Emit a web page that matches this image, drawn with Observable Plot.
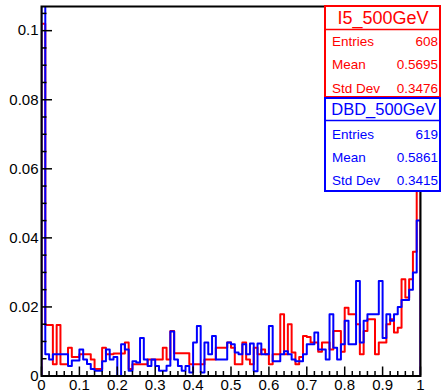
<!DOCTYPE html>
<html><head><meta charset="utf-8">
<script src="https://cdn.jsdelivr.net/npm/d3@7"></script>
<script src="https://cdn.jsdelivr.net/npm/@observablehq/plot@0.6"></script>
<style>
html,body{margin:0;padding:0;background:#fff;}
#chart svg{display:block;}
</style></head><body><div id="chart"></div>
<script>
// ---- data ----
const nBins = 100;
const binEdges = d3.range(0, nBins + 1).map(k => +(k / nBins).toFixed(2));

const seriesNames = ["I5_500GeV", "DBD_500GeV"];
const seriesColors = ["#ff0000", "#0000ff"];

const redValues = [
  0.102, 0.0148, 0.0148, 0.0034, 0.0148, 0.0034, 0.0034, 0.0082, 0.0055, 0.0055,
  0.0063, 0.0063, 0.0063, 0.0048, 0.0020, 0.0020, 0.0082, 0.0063, 0.0063, 0.0065,
  0.0065, 0.0065, 0.0097, 0.0020, 0.0034, 0.0034, 0.0034, 0.0034, 0.0048, 0.0048,
  0.0048, 0.0048, 0.0082, 0.0048, 0.0130, 0.0066, 0.0066, 0.0066, 0.0066, 0.0034,
  0.0034, 0.0034, 0.0034, 0.0048, 0.0048, 0.0048, 0.0082, 0.0082, 0.0082, 0.0097,
  0.0082, 0.0034, 0.0034, 0.0097, 0.0048, 0.0034, 0.0082, 0.0063, 0.0077, 0.0063,
  0.0034, 0.0063, 0.0063, 0.0179, 0.0063, 0.0150, 0.0068, 0.0034, 0.0055, 0.0116,
  0.0113, 0.0097, 0.0097, 0.0070, 0.0097, 0.0097, 0.0077, 0.0130, 0.0130, 0.0070,
  0.0198, 0.0179, 0.0179, 0.0150, 0.0063, 0.0130, 0.0164, 0.0164, 0.0063, 0.0097,
  0.0097, 0.0150, 0.0164, 0.0126, 0.0140, 0.0280, 0.0227, 0.0280, 0.0360, 0.0620
];
const blueValues = [
  0.150, 0.0063, 0.0048, 0.0063, 0.0063, 0.0063, 0.0063, 0.0029, 0.0045, 0.0045,
  0.0077, 0.0048, 0.0035, 0.0020, 0.0015, 0.0015, 0.0043, 0.0077, 0.0048, 0.0055,
  0.0000, 0.0092, 0.0077, 0.0015, 0.0043, 0.0039, 0.0110, 0.0048, 0.0029, 0.0048,
  0.0029, 0.0015, 0.0015, 0.0030, 0.0129, 0.0048, 0.0029, 0.0015, 0.0029, 0.0010,
  0.0097, 0.0145, 0.0010, 0.0097, 0.0063, 0.0116, 0.0048, 0.0048, 0.0048, 0.0097,
  0.0092, 0.0068, 0.0063, 0.0092, 0.0063, 0.0094, 0.0014, 0.0094, 0.0063, 0.0063,
  0.0145, 0.0043, 0.0043, 0.0063, 0.0072, 0.0063, 0.0048, 0.0043, 0.0043, 0.0063,
  0.0092, 0.0092, 0.0126, 0.0077, 0.0077, 0.0048, 0.0179, 0.0082, 0.0048, 0.0092,
  0.0160, 0.0092, 0.0092, 0.0275, 0.0097, 0.0160, 0.0179, 0.0179, 0.0179, 0.0275,
  0.0110, 0.0179, 0.0160, 0.0179, 0.0200, 0.0220, 0.0220, 0.0250, 0.0300, 0.0450
];

const statNames = ["Entries", "Mean", "Std Dev"];
const redStats = ["608", "0.5695", "0.3476"];
const blueStats = ["619", "0.5861", "0.3415"];

const xMajor = [0, 0.1, 0.2, 0.3, 0.4, 0.5, 0.6, 0.7, 0.8, 0.9, 1];
const xTickLabels = ["0", "0.1", "0.2", "0.3", "0.4", "0.5", "0.6", "0.7", "0.8", "0.9", "1"];
const xMinor = d3.range(0, 51).map(k => +(k * 0.02).toFixed(2)).filter(v => !xMajor.includes(v));
const yMajor = [0, 0.02, 0.04, 0.06, 0.08, 0.1];
const yTickLabels = ["0", "0.02", "0.04", "0.06", "0.08", "0.1"];
const yMinor = d3.range(0, 22).map(k => +(k * 0.005).toFixed(3)).filter(v => !yMajor.includes(v));

// ---- build step outline ----
function outline(vals) {
  const pts = [{x: binEdges[0], y: 0}];
  vals.forEach((v, i) => pts.push({x: binEdges[i], y: v}));
  pts.push({x: binEdges[nBins], y: vals[nBins - 1]});
  pts.push({x: binEdges[nBins], y: 0});
  return pts;
}

const FONT = "'Liberation Sans', Arial, Helvetica, sans-serif";
const W = 441, H = 392, ML = 41, MR = 21, MT = 6, MB = 16.5;
const frameW = W - ML - MR, frameH = H - MT - MB;

const chart = Plot.plot({
  width: W, height: H,
  marginLeft: ML, marginRight: MR, marginTop: MT, marginBottom: MB,
  style: {fontFamily: FONT, fontSize: "15px", background: "white", overflow: "visible", color: "black"},
  x: {domain: [0, 1], ticks: xMajor, tickFormat: d => xTickLabels[xMajor.indexOf(d)], tickSize: 0, tickPadding: 3.5, label: null},
  y: {domain: [0, 0.107], ticks: yMajor, tickFormat: d => yTickLabels[yMajor.indexOf(d)], tickSize: 0, tickPadding: 3, label: null},
  marks: [
    Plot.line(outline(redValues), {x: "x", y: "y", curve: "step-after", stroke: seriesColors[0], strokeWidth: 2, clip: true}),
    Plot.line(outline(blueValues), {x: "x", y: "y", curve: "step-after", stroke: seriesColors[1], strokeWidth: 2, clip: true}),
    Plot.ruleY(yMinor, {stroke: "black", strokeWidth: 1.5, insetRight: frameW - 5.5}),
    Plot.ruleY(yMajor, {stroke: "black", strokeWidth: 1.5, insetRight: frameW - 11}),
    Plot.ruleX(xMinor, {stroke: "black", strokeWidth: 1.5, insetTop: frameH - 4.5}),
    Plot.ruleX(xMajor, {stroke: "black", strokeWidth: 1.5, insetTop: frameH - 9}),
    Plot.frame({stroke: "black", strokeWidth: 2})
  ]
});
document.getElementById("chart").appendChild(chart);

// ---- ROOT-style stats boxes ----
const svg = d3.select(chart);
function statBox(cfg) {
  const g = svg.append("g").attr("font-family", FONT).attr("text-anchor", "start");
  g.append("rect").attr("x", 325).attr("y", cfg.y0).attr("width", 115).attr("height", cfg.y1 - cfg.y0)
    .attr("fill", "white").attr("stroke", cfg.color).attr("stroke-width", 2);
  g.append("line").attr("x1", 325).attr("x2", 440).attr("y1", cfg.yDiv).attr("y2", cfg.yDiv)
    .attr("stroke", cfg.color).attr("stroke-width", 1.5);
  g.append("text").attr("x", cfg.tx).attr("y", cfg.tBase).attr("fill", cfg.color).attr("text-anchor", "middle")
    .attr("font-size", cfg.tSize).text(cfg.title);
  statNames.forEach((n, i) => {
    g.append("text").attr("x", 332).attr("y", cfg.rows[i]).attr("fill", cfg.color).attr("font-size", 13.5)
      .attr("text-anchor", "start").text(n);
    g.append("text").attr("x", 438).attr("y", cfg.rows[i]).attr("fill", cfg.color).attr("font-size", 13.5)
      .attr("text-anchor", "end").text(cfg.stats[i]);
  });
}
statBox({y0: 6, y1: 97, yDiv: 29.5, color: seriesColors[0], title: seriesNames[0], tx: 383, tBase: 24, tSize: 18,
  rows: [45.7, 69.3, 92.8], stats: redStats});
statBox({y0: 98, y1: 191, yDiv: 120.5, color: seriesColors[1], title: seriesNames[1], tx: 383.5, tBase: 115, tSize: 16.5,
  rows: [139, 162.3, 185], stats: blueStats});
</script>
</body></html>
